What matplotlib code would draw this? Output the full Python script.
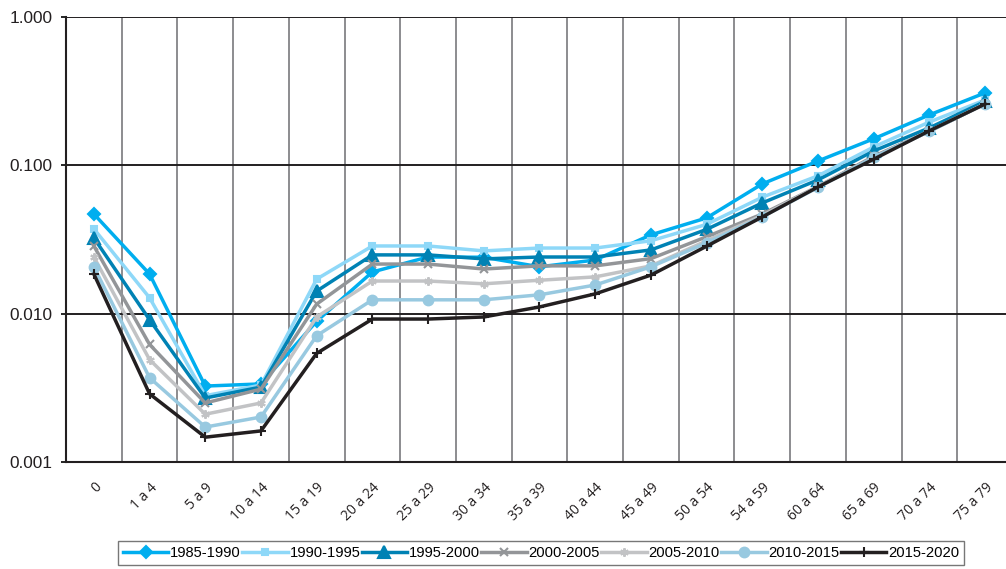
import matplotlib
matplotlib.use("Agg")
import matplotlib.pyplot as plt
import numpy as np

# age groups
ages = ['0', '1 a 4', '5 a 9', '10 a 14', '15 a 19', '20 a 24', '25 a 29', '30 a 34',
        '35 a 39', '40 a 44', '45 a 49', '50 a 54', '54 a 59', '60 a 64', '65 a 69',
        '70 a 74', '75 a 79']

p1985 = [0.047, 0.0185, 0.00325, 0.00336, 0.0089, 0.0191, 0.0241, 0.024, 0.0207, 0.023,
         0.034, 0.0442, 0.075, 0.107, 0.151, 0.219, 0.308]
p1990 = [0.0373, 0.0128, 0.0028, 0.0033, 0.0171, 0.0286, 0.0286, 0.0265, 0.0277, 0.0277,
         0.031, 0.040, 0.061, 0.085, 0.133, 0.196, 0.276]
p1995 = [0.0324, 0.0091, 0.0027, 0.0032, 0.0142, 0.0249, 0.0249, 0.0234, 0.0241, 0.0241,
         0.0269, 0.037, 0.0558, 0.0798, 0.125, 0.179, 0.27]
p2000 = [0.0286, 0.0062, 0.0025, 0.0031, 0.0116, 0.0216, 0.0216, 0.020, 0.021, 0.021,
         0.0235, 0.033, 0.047, 0.072, 0.115, 0.17, 0.26]
p2005 = [0.0241, 0.0049, 0.0021, 0.0025, 0.0095, 0.0166, 0.0166, 0.0159, 0.0168, 0.0177,
         0.021, 0.031, 0.046, 0.072, 0.113, 0.17, 0.26]
p2010 = [0.0207, 0.0037, 0.00172, 0.00201, 0.0071, 0.0124, 0.0124, 0.0124, 0.0134, 0.0156,
         0.0207, 0.030, 0.045, 0.071, 0.113, 0.17, 0.26]
p2015 = [0.0185, 0.00288, 0.00147, 0.00162, 0.0054, 0.0092, 0.0092, 0.0095, 0.0111, 0.0136,
         0.0182, 0.0285, 0.0449, 0.0715, 0.110, 0.171, 0.259]

series = [p1985, p1990, p1995, p2000, p2005, p2010, p2015]
labels = ['1985-1990', '1990-1995', '1995-2000', '2000-2005', '2005-2010', '2010-2015', '2015-2020']
colors = ['#00AEEF', '#8ED8F8', '#0082B4', '#939598', '#C2C3C5', '#98C9E0', '#231F20']
markers = ['D', 's', '^', 'x', (6, 2, 0), 'o', '+']
msizes = [6, 5, 8, 6, 6, 7, 7]

fig = plt.figure(figsize=(10.06, 5.69), dpi=100)
ax = fig.add_axes([66 / 1006, 1 - 462 / 569, 947 / 1006, 445 / 569])

x = np.arange(len(ages))
for vals, lab, c, m, ms in zip(series, labels, colors, markers, msizes):
    ax.plot(x, vals, color=c, marker=m, markersize=ms, linewidth=2.5, label=lab,
            markeredgewidth=1.5)

ax.set_yscale('log')
ax.set_ylim(0.001, 1.0)
ax.set_xlim(-0.5, len(ages) - 0.5)
ax.set_yticks([0.001, 0.01, 0.1, 1.0])
ax.set_yticklabels(['0.001', '0.010', '0.100', '1.000'], fontsize=12.4,
                   family='Liberation Sans', color='#231F20')
ax.yaxis.set_minor_locator(matplotlib.ticker.NullLocator())
ax.tick_params(axis='y', length=3.5, width=1.2, pad=6)

ax.set_xticks(x)
ax.set_xticklabels(ages, rotation=45, ha='right', rotation_mode='anchor',
                   fontsize=10, family='Open Sans', color='#231F20')
ax.tick_params(axis='x', length=0, pad=13)

# vertical lines between categories
for b in np.arange(0.5, len(ages) - 0.5, 1.0):
    ax.axvline(b, color='#6D6E71', linewidth=1.1, zorder=0)
for yv in [0.01, 0.1, 1.0]:
    ax.axhline(yv, color='#231F20', linewidth=1.4, zorder=0)

for s in ['top', 'right']:
    ax.spines[s].set_visible(False)
ax.spines['left'].set_linewidth(1.5)
ax.spines['bottom'].set_linewidth(1.5)
ax.spines['left'].set_color('#231F20')
ax.spines['bottom'].set_color('#231F20')

leg = fig.legend(loc='upper center', bbox_to_anchor=(541 / 1006, 1 - 541 / 569), ncol=7,
                 frameon=True, fancybox=False, handlelength=3.1, handletextpad=0.12,
                 columnspacing=0.08, borderpad=0.35, borderaxespad=0,
                 prop={'family': 'Liberation Sans', 'size': 10.6})
leg.get_frame().set_edgecolor('#555555')
leg.get_frame().set_linewidth(1.0)

fig.savefig('out.png', dpi=100)
